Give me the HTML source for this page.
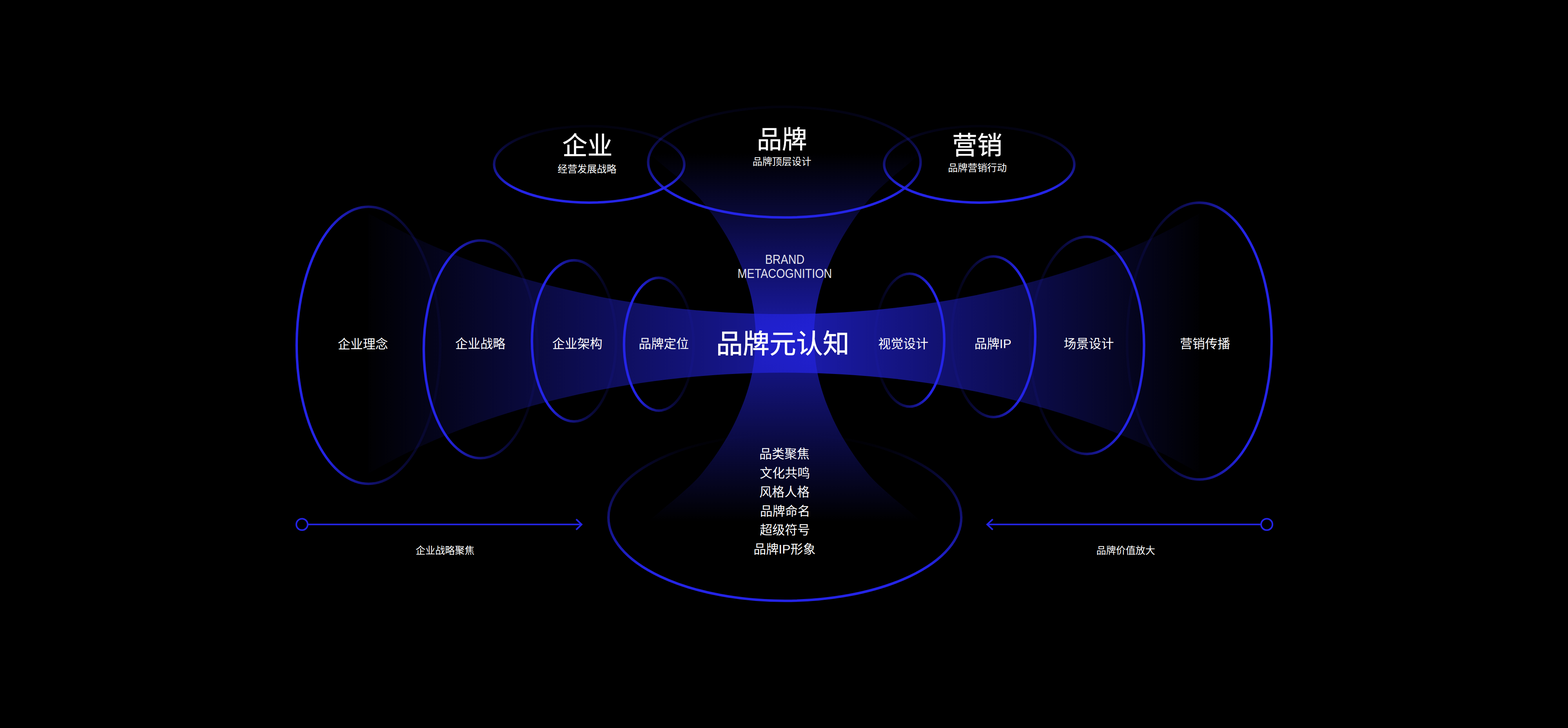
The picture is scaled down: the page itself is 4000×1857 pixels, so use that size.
<!DOCTYPE html>
<html lang="zh-CN"><head><meta charset="utf-8"><title>品牌元认知</title>
<style>
html,body{margin:0;padding:0;background:#000;}
body{width:4000px;height:1857px;overflow:hidden;position:relative;font-family:"Liberation Sans",sans-serif;}
svg{position:absolute;left:0;top:0;display:block;}
.en{position:absolute;left:1702px;width:600px;text-align:center;color:rgba(255,255,255,.9);font-family:"Liberation Sans",sans-serif;white-space:nowrap;}
svg text{font-family:"Liberation Sans","Noto Sans CJK SC",sans-serif;}
</style></head><body>
<svg width="4000" height="1857" viewBox="0 0 4000 1857">
<defs>
<linearGradient id="gR" x1="0" y1="0" x2="1" y2="0"><stop offset="0" stop-color="#2424E6" stop-opacity="1.000"/><stop offset="0.1" stop-color="#2424E6" stop-opacity="1.000"/><stop offset="0.2" stop-color="#2424E6" stop-opacity="1.000"/><stop offset="0.3" stop-color="#2424E6" stop-opacity="0.819"/><stop offset="0.4" stop-color="#2424E6" stop-opacity="0.655"/><stop offset="0.5" stop-color="#2424E6" stop-opacity="0.510"/><stop offset="0.6" stop-color="#2424E6" stop-opacity="0.383"/><stop offset="0.7" stop-color="#2424E6" stop-opacity="0.274"/><stop offset="0.8" stop-color="#2424E6" stop-opacity="0.184"/><stop offset="0.9" stop-color="#2424E6" stop-opacity="0.111"/><stop offset="1.0" stop-color="#2424E6" stop-opacity="0.057"/></linearGradient>
<linearGradient id="gL" x1="1" y1="0" x2="0" y2="0"><stop offset="0" stop-color="#2424E6" stop-opacity="1.000"/><stop offset="0.1" stop-color="#2424E6" stop-opacity="1.000"/><stop offset="0.2" stop-color="#2424E6" stop-opacity="1.000"/><stop offset="0.3" stop-color="#2424E6" stop-opacity="0.819"/><stop offset="0.4" stop-color="#2424E6" stop-opacity="0.655"/><stop offset="0.5" stop-color="#2424E6" stop-opacity="0.510"/><stop offset="0.6" stop-color="#2424E6" stop-opacity="0.383"/><stop offset="0.7" stop-color="#2424E6" stop-opacity="0.274"/><stop offset="0.8" stop-color="#2424E6" stop-opacity="0.184"/><stop offset="0.9" stop-color="#2424E6" stop-opacity="0.111"/><stop offset="1.0" stop-color="#2424E6" stop-opacity="0.057"/></linearGradient>
<linearGradient id="gU" x1="0" y1="1" x2="0" y2="0"><stop offset="0" stop-color="#2424E6" stop-opacity="1.000"/><stop offset="0.1" stop-color="#2424E6" stop-opacity="1.000"/><stop offset="0.2" stop-color="#2424E6" stop-opacity="1.000"/><stop offset="0.3" stop-color="#2424E6" stop-opacity="0.819"/><stop offset="0.4" stop-color="#2424E6" stop-opacity="0.655"/><stop offset="0.5" stop-color="#2424E6" stop-opacity="0.510"/><stop offset="0.6" stop-color="#2424E6" stop-opacity="0.383"/><stop offset="0.7" stop-color="#2424E6" stop-opacity="0.274"/><stop offset="0.8" stop-color="#2424E6" stop-opacity="0.184"/><stop offset="0.9" stop-color="#2424E6" stop-opacity="0.111"/><stop offset="1.0" stop-color="#2424E6" stop-opacity="0.057"/></linearGradient>
<linearGradient id="gH" gradientUnits="userSpaceOnUse" x1="939.5" y1="0" x2="3059.5" y2="0"><stop offset="0.0000" stop-color="#2424E6" stop-opacity="0.012"/><stop offset="0.5380" stop-color="#2424E6" stop-opacity="0.72"/><stop offset="1.0000" stop-color="#2424E6" stop-opacity="0.012"/></linearGradient>
<linearGradient id="gV" gradientUnits="userSpaceOnUse" x1="0" y1="390" x2="0" y2="1330"><stop offset="0.0000" stop-color="#2424E6" stop-opacity="0.0"/><stop offset="0.4766" stop-color="#2424E6" stop-opacity="0.7"/><stop offset="1.0000" stop-color="#2424E6" stop-opacity="0.0"/></linearGradient>
<linearGradient id="gB" x1="0" y1="1" x2="0" y2="0"><stop offset="0" stop-color="#2424E6" stop-opacity="1"/><stop offset="0.1" stop-color="#2424E6" stop-opacity="1"/><stop offset="0.2" stop-color="#2424E6" stop-opacity="1"/><stop offset="0.3" stop-color="#2424E6" stop-opacity="0.819"/><stop offset="0.4" stop-color="#2424E6" stop-opacity="0.655"/><stop offset="0.5" stop-color="#2424E6" stop-opacity="0.51"/><stop offset="0.6" stop-color="#2424E6" stop-opacity="0.383"/><stop offset="0.7" stop-color="#2424E6" stop-opacity="0.274"/><stop offset="0.8" stop-color="#2424E6" stop-opacity="0.184"/><stop offset="0.9" stop-color="#2424E6" stop-opacity="0.06"/><stop offset="1" stop-color="#2424E6" stop-opacity="0"/></linearGradient>
</defs>
<rect width="4000" height="1857" fill="#000"/>
<g fill="none" stroke-width="6.3">
<ellipse cx="1503" cy="419.2" rx="242.6" ry="97.6" stroke="url(#gU)"/>
<ellipse cx="2001" cy="413.6" rx="347.5" ry="141.1" stroke="url(#gU)"/>
<ellipse cx="2498" cy="419.2" rx="242.6" ry="97.6" stroke="url(#gU)"/>
<ellipse cx="940" cy="880.7" rx="183.2" ry="353.4" stroke="url(#gR)"/>
<ellipse cx="1226" cy="891" rx="145" ry="277.7" stroke="url(#gR)"/>
<ellipse cx="1464.3" cy="869.5" rx="107.3" ry="205.5" stroke="url(#gR)"/>
<ellipse cx="1680.6" cy="878" rx="88.7" ry="169.5" stroke="url(#gR)"/>
<ellipse cx="2320.5" cy="867.7" rx="88.3" ry="169.5" stroke="url(#gL)"/>
<ellipse cx="2534.4" cy="859" rx="106.6" ry="204.8" stroke="url(#gL)"/>
<ellipse cx="2773" cy="881" rx="145.5" ry="277" stroke="url(#gL)"/>
<ellipse cx="3059.5" cy="870" rx="184.5" ry="353" stroke="url(#gL)"/>
<ellipse cx="2002.2" cy="1320" rx="450" ry="212.6" stroke="url(#gB)"/>
</g>
<path d="M1653.5,390.0 L1659.7,395.0 L1665.7,400.0 L1671.6,405.0 L1677.5,410.0 L1683.3,415.0 L1689.2,420.0 L1695.1,425.0 L1701.1,430.0 L1707.2,435.0 L1713.3,440.0 L1719.4,445.0 L1725.4,450.0 L1731.2,455.0 L1736.8,460.0 L1742.5,465.0 L1748.1,470.0 L1753.6,475.0 L1759.1,480.0 L1764.5,485.0 L1769.7,490.0 L1774.7,495.0 L1779.5,500.0 L1784.1,505.0 L1788.4,510.0 L1792.5,515.0 L1796.4,520.0 L1800.3,525.0 L1804.2,530.0 L1808.0,535.0 L1811.8,540.0 L1815.6,545.0 L1819.2,550.0 L1822.8,555.0 L1826.2,560.0 L1829.6,565.0 L1832.9,570.0 L1836.2,575.0 L1839.4,580.0 L1842.6,585.0 L1845.7,590.0 L1848.8,595.0 L1851.8,600.0 L1854.8,605.0 L1857.6,610.0 L1860.5,615.0 L1863.2,620.0 L1865.9,625.0 L1868.5,630.0 L1871.0,635.0 L1873.5,640.0 L1875.9,645.0 L1878.3,650.0 L1880.6,655.0 L1882.8,660.0 L1885.0,665.0 L1887.1,670.0 L1889.2,675.0 L1891.3,680.0 L1893.3,685.0 L1895.3,690.0 L1897.2,695.0 L1899.1,700.0 L1900.8,705.0 L1902.5,710.0 L1904.2,715.0 L1905.8,720.0 L1907.3,725.0 L1908.9,730.0 L1910.3,735.0 L1911.8,740.0 L1913.1,745.0 L1914.4,750.0 L1915.6,755.0 L1916.7,760.0 L1917.8,765.0 L1918.8,770.0 L1919.8,775.0 L1920.7,780.0 L1921.6,785.0 L1922.4,790.0 L1923.1,795.0 L1923.7,800.0 L1924.2,805.0 L1924.7,810.0 L1925.3,815.0 L1925.7,820.0 L1926.2,825.0 L1926.6,830.0 L1927.0,835.0 L1927.4,840.0 L1927.6,845.0 L1927.8,850.0 L1928.0,855.0 L1928.0,860.0 L1928.0,865.0 L1927.8,870.0 L1927.6,875.0 L1927.4,880.0 L1927.0,885.0 L1926.6,890.0 L1926.2,895.0 L1925.7,900.0 L1925.3,905.0 L1924.7,910.0 L1924.2,915.0 L1923.7,920.0 L1923.1,925.0 L1922.4,930.0 L1921.6,935.0 L1920.7,940.0 L1919.8,945.0 L1918.8,950.0 L1917.8,955.0 L1916.7,960.0 L1915.6,965.0 L1914.4,970.0 L1913.1,975.0 L1911.8,980.0 L1910.3,985.0 L1908.9,990.0 L1907.3,995.0 L1905.8,1000.0 L1904.2,1005.0 L1902.5,1010.0 L1900.8,1015.0 L1899.1,1020.0 L1897.2,1025.0 L1895.3,1030.0 L1893.3,1035.0 L1891.3,1040.0 L1889.2,1045.0 L1887.1,1050.0 L1885.0,1055.0 L1882.8,1060.0 L1880.6,1065.0 L1878.3,1070.0 L1875.9,1075.0 L1873.5,1080.0 L1871.0,1085.0 L1868.5,1090.0 L1865.9,1095.0 L1863.2,1100.0 L1860.5,1105.0 L1857.6,1110.0 L1854.8,1115.0 L1851.8,1120.0 L1848.8,1125.0 L1845.7,1130.0 L1842.6,1135.0 L1839.4,1140.0 L1836.2,1145.0 L1832.9,1150.0 L1829.6,1155.0 L1826.2,1160.0 L1822.8,1165.0 L1819.2,1170.0 L1815.6,1175.0 L1811.8,1180.0 L1808.0,1185.0 L1804.2,1190.0 L1800.3,1195.0 L1796.4,1200.0 L1792.5,1205.0 L1788.4,1210.0 L1784.1,1215.0 L1779.5,1220.0 L1774.7,1225.0 L1769.7,1230.0 L1764.5,1235.0 L1759.1,1240.0 L1753.6,1245.0 L1748.1,1250.0 L1742.5,1255.0 L1736.8,1260.0 L1731.2,1265.0 L1725.4,1270.0 L1719.4,1275.0 L1713.3,1280.0 L1707.2,1285.0 L1701.1,1290.0 L1695.1,1295.0 L1689.2,1300.0 L1683.3,1305.0 L1677.5,1310.0 L1671.6,1315.0 L1665.7,1320.0 L1659.7,1325.0 L1653.5,1330.0 L2350.5,1330.0 L2344.3,1325.0 L2338.3,1320.0 L2332.4,1315.0 L2326.5,1310.0 L2320.7,1305.0 L2314.8,1300.0 L2308.9,1295.0 L2302.9,1290.0 L2296.8,1285.0 L2290.7,1280.0 L2284.6,1275.0 L2278.6,1270.0 L2272.8,1265.0 L2267.2,1260.0 L2261.5,1255.0 L2255.9,1250.0 L2250.4,1245.0 L2244.9,1240.0 L2239.5,1235.0 L2234.3,1230.0 L2229.3,1225.0 L2224.5,1220.0 L2219.9,1215.0 L2215.6,1210.0 L2211.5,1205.0 L2207.6,1200.0 L2203.7,1195.0 L2199.8,1190.0 L2196.0,1185.0 L2192.2,1180.0 L2188.4,1175.0 L2184.8,1170.0 L2181.2,1165.0 L2177.8,1160.0 L2174.4,1155.0 L2171.1,1150.0 L2167.8,1145.0 L2164.6,1140.0 L2161.4,1135.0 L2158.3,1130.0 L2155.2,1125.0 L2152.2,1120.0 L2149.2,1115.0 L2146.4,1110.0 L2143.5,1105.0 L2140.8,1100.0 L2138.1,1095.0 L2135.5,1090.0 L2133.0,1085.0 L2130.5,1080.0 L2128.1,1075.0 L2125.7,1070.0 L2123.4,1065.0 L2121.2,1060.0 L2119.0,1055.0 L2116.9,1050.0 L2114.8,1045.0 L2112.7,1040.0 L2110.7,1035.0 L2108.7,1030.0 L2106.8,1025.0 L2104.9,1020.0 L2103.2,1015.0 L2101.5,1010.0 L2099.8,1005.0 L2098.2,1000.0 L2096.7,995.0 L2095.1,990.0 L2093.7,985.0 L2092.2,980.0 L2090.9,975.0 L2089.6,970.0 L2088.4,965.0 L2087.3,960.0 L2086.2,955.0 L2085.2,950.0 L2084.2,945.0 L2083.3,940.0 L2082.4,935.0 L2081.6,930.0 L2080.9,925.0 L2080.3,920.0 L2079.8,915.0 L2079.3,910.0 L2078.7,905.0 L2078.3,900.0 L2077.8,895.0 L2077.4,890.0 L2077.0,885.0 L2076.6,880.0 L2076.4,875.0 L2076.2,870.0 L2076.0,865.0 L2076.0,860.0 L2076.0,855.0 L2076.2,850.0 L2076.4,845.0 L2076.6,840.0 L2077.0,835.0 L2077.4,830.0 L2077.8,825.0 L2078.3,820.0 L2078.7,815.0 L2079.3,810.0 L2079.8,805.0 L2080.3,800.0 L2080.9,795.0 L2081.6,790.0 L2082.4,785.0 L2083.3,780.0 L2084.2,775.0 L2085.2,770.0 L2086.2,765.0 L2087.3,760.0 L2088.4,755.0 L2089.6,750.0 L2090.9,745.0 L2092.2,740.0 L2093.7,735.0 L2095.1,730.0 L2096.7,725.0 L2098.2,720.0 L2099.8,715.0 L2101.5,710.0 L2103.2,705.0 L2104.9,700.0 L2106.8,695.0 L2108.7,690.0 L2110.7,685.0 L2112.7,680.0 L2114.8,675.0 L2116.9,670.0 L2119.0,665.0 L2121.2,660.0 L2123.4,655.0 L2125.7,650.0 L2128.1,645.0 L2130.5,640.0 L2133.0,635.0 L2135.5,630.0 L2138.1,625.0 L2140.8,620.0 L2143.5,615.0 L2146.4,610.0 L2149.2,605.0 L2152.2,600.0 L2155.2,595.0 L2158.3,590.0 L2161.4,585.0 L2164.6,580.0 L2167.8,575.0 L2171.1,570.0 L2174.4,565.0 L2177.8,560.0 L2181.2,555.0 L2184.8,550.0 L2188.4,545.0 L2192.2,540.0 L2196.0,535.0 L2199.8,530.0 L2203.7,525.0 L2207.6,520.0 L2211.5,515.0 L2215.6,510.0 L2219.9,505.0 L2224.5,500.0 L2229.3,495.0 L2234.3,490.0 L2239.5,485.0 L2244.9,480.0 L2250.4,475.0 L2255.9,470.0 L2261.5,465.0 L2267.2,460.0 L2272.8,455.0 L2278.6,450.0 L2284.6,445.0 L2290.7,440.0 L2296.8,435.0 L2302.9,430.0 L2308.9,425.0 L2314.8,420.0 L2320.7,415.0 L2326.5,410.0 L2332.4,405.0 L2338.3,400.0 L2344.3,395.0 L2350.5,390.0Z" fill="url(#gV)"/>
<path d="M939.5,543.5 A1500,880 0 0 0 3059.5,544.1 L3059.5,1207.5 A1500,880 0 0 0 939.5,1208.1 Z" fill="url(#gH)"/>
<g fill="none" stroke="#2424E6" stroke-width="4.1"><circle cx="770.4" cy="1337.7" r="14.5"/><path d="M784.9,1337.8H1484"/><path d="M1469.8,1324.4L1483.7,1337.8L1469.8,1351.2"/><circle cx="3231.6" cy="1337.7" r="14.5"/><path d="M3217.1,1337.8H2518"/><path d="M2532.6,1324.4L2518.3,1337.8L2532.6,1351.2"/></g>
<g fill="#fff">
<text x="1434.42" y="393.84" font-size="64" stroke="#fff" stroke-width="0.58">企业</text>
<text x="1422.58" y="440.11" font-size="25">经营发展战略</text>
<text x="1930.67" y="378.35" font-size="64" stroke="#fff" stroke-width="0.58">品牌</text>
<text x="1919.67" y="421.23" font-size="25">品牌顶层设计</text>
<text x="2428.97" y="393.16" font-size="64" stroke="#fff" stroke-width="0.58">营销</text>
<text x="2418.15" y="437.20" font-size="25">品牌营销行动</text>
<text x="861.76" y="888.83" font-size="32">企业理念</text>
<text x="1161.36" y="888.30" font-size="32">企业战略</text>
<text x="1408.81" y="888.29" font-size="32">企业架构</text>
<text x="1629.14" y="888.22" font-size="32">品牌定位</text>
<text x="1827.01" y="900.87" font-size="68" stroke="#fff" stroke-width="0.75">品牌元认知</text>
<text x="2240.18" y="888.06" font-size="32">视觉设计</text>
<text x="2485.84" y="888.18" font-size="32">品牌IP</text>
<text x="2713.38" y="888.06" font-size="32">场景设计</text>
<text x="3009.89" y="888.13" font-size="32">营销传播</text>
<text x="1936.94" y="1168.78" font-size="32">品类聚焦</text>
<text x="1938.13" y="1217.86" font-size="32">文化共鸣</text>
<text x="1937.33" y="1266.46" font-size="32">风格人格</text>
<text x="1938.69" y="1315.32" font-size="32">品牌命名</text>
<text x="1938.24" y="1363.18" font-size="32">超级符号</text>
<text x="1922.26" y="1412.13" font-size="32">品牌IP形象</text>
<text x="1060.31" y="1413.29" font-size="25">企业战略聚焦</text>
<text x="2796.84" y="1413.24" font-size="25">品牌价值放大</text>
</g>
</svg>
<div class="en" style="top:643.6px;font-size:32.7px;line-height:36px;transform:scaleX(0.880);transform-origin:50% 50%">BRAND<br>METACOGNITION</div>
</body></html>
